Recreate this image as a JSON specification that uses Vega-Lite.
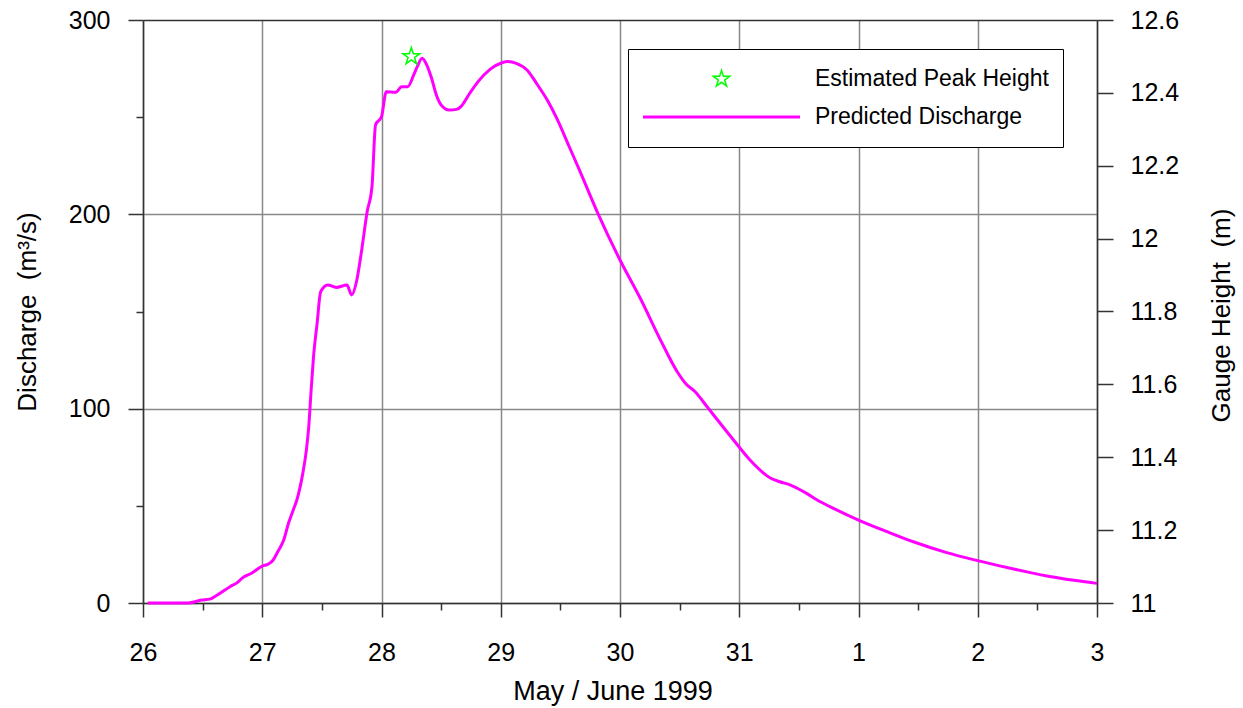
{
  "$schema": "https://vega.github.io/schema/vega-lite/v6.json",
  "width": 954,
  "height": 583,
  "autosize": {"type": "none"},
  "padding": {"left": 143, "top": 20, "right": 146, "bottom": 105},
  "background": "white",
  "datasets": {
    "flow": [
      {"d": 26.04, "q": 0}, {"d": 26.38, "q": 0}, {"d": 26.49, "q": 1.5}, {"d": 26.56, "q": 2},
      {"d": 26.62, "q": 4}, {"d": 26.73, "q": 8.4}, {"d": 26.79, "q": 10.5}, {"d": 26.84, "q": 13.2},
      {"d": 26.91, "q": 15.3}, {"d": 27.0, "q": 19}, {"d": 27.05, "q": 20}, {"d": 27.09, "q": 22},
      {"d": 27.13, "q": 26.4}, {"d": 27.18, "q": 32.4}, {"d": 27.22, "q": 41}, {"d": 27.26, "q": 47.9},
      {"d": 27.29, "q": 53}, {"d": 27.34, "q": 66.7}, {"d": 27.37, "q": 78.7}, {"d": 27.39, "q": 90.7},
      {"d": 27.41, "q": 109.6}, {"d": 27.43, "q": 126.7}, {"d": 27.46, "q": 143.9}, {"d": 27.49, "q": 160.2},
      {"d": 27.55, "q": 163.6}, {"d": 27.62, "q": 162.4}, {"d": 27.71, "q": 163.6}, {"d": 27.75, "q": 158.5},
      {"d": 27.79, "q": 165.3}, {"d": 27.83, "q": 180}, {"d": 27.88, "q": 201.4}, {"d": 27.92, "q": 214.2},
      {"d": 27.95, "q": 246}, {"d": 28.0, "q": 250.2}, {"d": 28.04, "q": 263.1}, {"d": 28.12, "q": 262.8},
      {"d": 28.17, "q": 265.7}, {"d": 28.22, "q": 265.7}, {"d": 28.27, "q": 271.7}, {"d": 28.3, "q": 276},
      {"d": 28.34, "q": 280.3}, {"d": 28.38, "q": 276.8}, {"d": 28.42, "q": 270}, {"d": 28.46, "q": 261.4},
      {"d": 28.5, "q": 256.3}, {"d": 28.57, "q": 253.7}, {"d": 28.63, "q": 254}, {"d": 28.67, "q": 255.7},
      {"d": 28.74, "q": 262.3}, {"d": 28.81, "q": 268.3}, {"d": 28.91, "q": 274.6}, {"d": 29.01, "q": 278},
      {"d": 29.06, "q": 278.6}, {"d": 29.13, "q": 277.7}, {"d": 29.22, "q": 274.3}, {"d": 29.3, "q": 267.4},
      {"d": 29.39, "q": 258.8}, {"d": 29.47, "q": 249.4}, {"d": 29.58, "q": 234}, {"d": 29.66, "q": 222.8},
      {"d": 29.82, "q": 199.7}, {"d": 30.0, "q": 176.5}, {"d": 30.17, "q": 156.8}, {"d": 30.34, "q": 135.3},
      {"d": 30.48, "q": 119}, {"d": 30.55, "q": 113}, {"d": 30.63, "q": 108.7}, {"d": 30.74, "q": 100.2},
      {"d": 30.94, "q": 84.8}, {"d": 31.09, "q": 73.6}, {"d": 31.26, "q": 64.3}, {"d": 31.34, "q": 62.4},
      {"d": 31.43, "q": 60.7}, {"d": 31.54, "q": 57.3}, {"d": 31.68, "q": 52.1}, {"d": 31.79, "q": 48.7},
      {"d": 32.0, "q": 42.7}, {"d": 32.24, "q": 36.7}, {"d": 32.46, "q": 31.5}, {"d": 32.74, "q": 25.9},
      {"d": 33.0, "q": 21.8}, {"d": 33.3, "q": 17.5}, {"d": 33.58, "q": 13.9}, {"d": 34.0, "q": 10.1}
    ],
    "peak": [{"d": 28.25, "h": 12.5}]
  },
  "layer": [
    {
      "data": {"name": "flow"},
      "mark": {"type": "line", "strokeWidth": 3, "interpolate": "monotone"},
      "encoding": {
        "x": {
          "field": "d", "type": "quantitative",
          "scale": {"domain": [26, 34], "nice": false, "zero": false},
          "axis": {
            "title": "May / June 1999",
            "titleFontSize": 27, "titleX": 469.5, "titleY": 96, "titleBaseline": "alphabetic", "titleAlign": "center",
            "values": [26, 26.5, 27, 27.5, 28, 28.5, 29, 29.5, 30, 30.5, 31, 31.5, 32, 32.5, 33, 33.5, 34],
            "labelExpr": "datum.value % 1 !== 0 ? '' : (datum.value > 31 ? '' + (datum.value - 31) : '' + datum.value)",
            "labelFontSize": 25, "labelPadding": 23,
            "tickSize": {"expr": "datum.value % 1 === 0 ? 14 : 7"},
            "grid": true,
            "gridOpacity": {"expr": "datum.value % 1 === 0 ? 1 : 0"}
          }
        },
        "y": {
          "field": "q", "type": "quantitative",
          "scale": {"domain": [0, 300], "nice": false},
          "axis": {
            "title": "Discharge \u00a0(m³/s)",
            "titleFontSize": 26, "titleX": -108, "titleY": 291.5, "titleAngle": 270, "titleBaseline": "alphabetic", "titleAlign": "center",
            "values": [0, 50, 100, 150, 200, 250, 300],
            "labelExpr": "datum.value % 100 === 0 ? '' + datum.value : ''",
            "labelFontSize": 25, "labelPadding": 18,
            "tickSize": {"expr": "datum.value % 100 === 0 ? 15 : 7"},
            "grid": true,
            "gridOpacity": {"expr": "datum.value % 100 === 0 ? 1 : 0"},
            "gridColor": {"expr": "datum.value === 300 ? '#333333' : '#888888'"}
          }
        },
        "color": {
          "datum": "Predicted Discharge", "type": "nominal",
          "scale": {"domain": ["Estimated Peak Height", "Predicted Discharge"], "range": ["#00ff00", "#ff00ff"]},
          "legend": {
            "title": null,
            "orient": "none", "legendX": 485, "legendY": 29,
            "padding": 14, "fillColor": "white", "strokeColor": "black",
            "clipHeight": 32, "rowPadding": 6, "labelOffset": 14, "labelLimit": 600,
            "labelFontSize": 23, "labelFont": "Liberation Sans", "labelColor": "black",
            "symbolType": "stroke", "symbolSize": 24649,
            "encode": {
              "legend": {"update": {"strokeWidth": {"value": 1}}},
              "symbols": {
                "update": {
                  "shape": {"signal": "(datum.value === 'Predicted Discharge' ? 'stroke' : 'M0,-0.11L0.0247,-0.034L0.1046,-0.034L0.0399,0.013L0.0647,0.089L0,0.042L-0.0647,0.089L-0.0399,0.013L-0.1046,-0.034L-0.0247,-0.034Z')"},
                  "size": {"value": 24649},
                  "stroke": {"signal": "(datum.value === 'Predicted Discharge' ? '#ff00ff' : '#00ff00')"},
                  "strokeWidth": {"signal": "(datum.value === 'Predicted Discharge' ? 3 : 1.5)"},
                  "fill": {"value": "transparent"},
                  "opacity": {"value": 1}
                }
              },
              "labels": {"update": {"fontSize": {"value": 23}}}
            }
          }
        }
      }
    },
    {
      "data": {"name": "peak"},
      "mark": {
        "type": "point", "filled": false, "strokeWidth": 1.5, "size": 320, "opacity": 1,
        "shape": "M0,-1L0.2245,-0.309L0.951,-0.309L0.363,0.118L0.588,0.809L0,0.382L-0.588,0.809L-0.363,0.118L-0.951,-0.309L-0.2245,-0.309Z"
      },
      "encoding": {
        "x": {"field": "d", "type": "quantitative"},
        "y": {
          "field": "h", "type": "quantitative",
          "scale": {"domain": [11, 12.6], "nice": false, "zero": false},
          "axis": {
            "orient": "right",
            "title": "Gauge Height \u00a0(m)",
            "titleFontSize": 26, "titleX": 132, "titleY": 295, "titleAngle": 270, "titleBaseline": "alphabetic", "titleAlign": "center",
            "values": [11, 11.2, 11.4, 11.6, 11.8, 12, 12.2, 12.4, 12.6],
            "format": "~r",
            "labelFontSize": 25, "labelPadding": 17,
            "tickSize": 16,
            "grid": false
          }
        },
        "color": {"datum": "Estimated Peak Height", "type": "nominal"}
      }
    }
  ],
  "resolve": {"scale": {"y": "independent"}},
  "config": {
    "view": {"stroke": null},
    "font": "Liberation Sans",
    "axis": {
      "labelFont": "Liberation Sans", "titleFont": "Liberation Sans",
      "labelColor": "black", "titleColor": "black", "titleFontWeight": "normal",
      "domainColor": "#333333", "tickColor": "#333333", "domainWidth": 1.5, "tickWidth": 1.5,
      "gridColor": "#888888", "gridWidth": 1.5,
      "labelFlush": false, "labelOverlap": false, "labelBound": false
    }
  }
}
